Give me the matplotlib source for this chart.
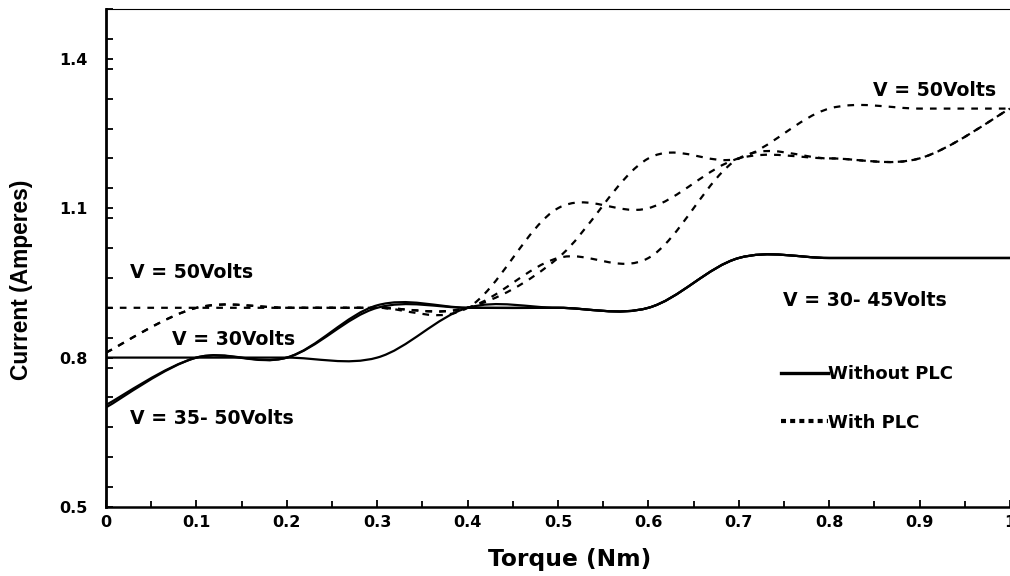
import matplotlib
matplotlib.use("Agg")
import matplotlib.pyplot as plt
from matplotlib.path import Path
from matplotlib.patches import PathPatch
from matplotlib.lines import Line2D
from matplotlib.ticker import MultipleLocator, FixedLocator

# ---------------- data ----------------
torque = [0.0, 0.1, 0.2, 0.3, 0.4, 0.5, 0.6, 0.7, 0.8, 0.9, 1.0]

# Without PLC (solid)
without_30v = [0.80, 0.80, 0.80, 0.80, 0.90, 0.90, 0.90, 1.00, 1.00, 1.00, 1.00]
without_35_50v_a = [0.70, 0.80, 0.80, 0.90, 0.90, 0.90, 0.90, 1.00, 1.00, 1.00, 1.00]
without_35_50v_b = [0.705, 0.80, 0.80, 0.905, 0.90, 0.90, 0.90, 1.00, 1.00, 1.00, 1.00]

# With PLC (dashed)
with_a = [0.90, 0.90, 0.90, 0.90, 0.90, 1.10, 1.10, 1.20, 1.20, 1.20, 1.30]
with_b = [0.81, 0.90, 0.90, 0.90, 0.90, 1.00, 1.00, 1.20, 1.20, 1.20, 1.30]
with_c = [0.81, 0.90, 0.90, 0.90, 0.90, 1.00, 1.20, 1.20, 1.30, 1.30, 1.30]

y_tick_values = [0.5, 0.8, 1.1, 1.4]
y_tick_labels = ["0.5", "0.8", "1.1", "1.4"]
x_tick_values = [0.0, 0.1, 0.2, 0.3, 0.4, 0.5, 0.6, 0.7, 0.8, 0.9, 1.0]
x_tick_labels = ["0", "0.1", "0.2", "0.3", "0.4", "0.5", "0.6", "0.7", "0.8", "0.9", "1"]

annotations = [
    (0.027, 0.97, "V = 50Volts"),
    (0.073, 0.836, "V = 30Volts"),
    (0.027, 0.678, "V = 35- 50Volts"),
    (0.749, 0.914, "V = 30- 45Volts"),
    (0.848, 1.336, "V = 50Volts"),
]


def smooth_path(xs, ys):
    """Excel-style smoothed line (Catmull-Rom drawn as cubic Bezier)."""
    pts = list(zip(xs, ys))
    n = len(pts)
    verts = [pts[0]]
    codes = [Path.MOVETO]
    for i in range(n - 1):
        p0 = pts[i - 1] if i > 0 else pts[i]
        p1 = pts[i]
        p2 = pts[i + 1]
        p3 = pts[i + 2] if i + 2 < n else pts[i + 1]
        c1 = (p1[0] + (p2[0] - p0[0]) / 6.0, p1[1] + (p2[1] - p0[1]) / 6.0)
        c2 = (p2[0] - (p3[0] - p1[0]) / 6.0, p2[1] - (p3[1] - p1[1]) / 6.0)
        verts += [c1, c2, p2]
        codes += [Path.CURVE4] * 3
    return Path(verts, codes)


fig = plt.figure(figsize=(10.10, 5.76), dpi=100)
ax = fig.add_axes([0.105, 0.1198, 0.895, 0.8646])

FONT = "DejaVu Sans"

solid_style = dict(facecolor="none", edgecolor="black", lw=1.6, capstyle="round")
dash_style = dict(facecolor="none", edgecolor="black", lw=1.6, capstyle="butt",
                  linestyle=(0, (3.0, 3.2)))

for ys in (without_30v, without_35_50v_a, without_35_50v_b):
    ax.add_patch(PathPatch(smooth_path(torque, ys), **solid_style))
for ys in (with_a, with_b, with_c):
    ax.add_patch(PathPatch(smooth_path(torque, ys), **dash_style))

ax.set_xlim(0, 1)
ax.set_ylim(0.5, 1.5)

ax.xaxis.set_major_locator(FixedLocator(x_tick_values))
ax.set_xticklabels(x_tick_labels)
ax.xaxis.set_minor_locator(MultipleLocator(0.05))
ax.yaxis.set_major_locator(FixedLocator(y_tick_values))
ax.set_yticklabels(y_tick_labels)
ax.yaxis.set_minor_locator(MultipleLocator(0.06))

ax.tick_params(axis="both", which="both", direction="in", width=1.3, color="black")
ax.tick_params(axis="x", which="major", length=5, pad=6)
ax.tick_params(axis="x", which="minor", length=4)
ax.tick_params(axis="y", which="both", length=5, pad=13)
for lab in ax.get_xticklabels() + ax.get_yticklabels():
    lab.set_fontfamily(FONT)
    lab.set_fontweight("bold")
    lab.set_fontsize(11.5)

ax.spines["left"].set_linewidth(2.0)
ax.spines["bottom"].set_linewidth(1.8)
ax.spines["top"].set_linewidth(0.8)
ax.spines["right"].set_visible(False)

ax.set_xlabel("Torque (Nm)", fontfamily=FONT, fontweight="bold", fontsize=16.8)
ax.xaxis.set_label_coords(0.513, -0.083)
ax.set_ylabel("Current (Amperes)", fontfamily="Liberation Sans", fontweight="bold",
              fontsize=16.4)
ax.yaxis.set_label_coords(-0.081, 0.456)

for x, y, t in annotations:
    ax.text(x, y, t, fontfamily=FONT, fontweight="bold", fontsize=13.6,
            ha="left", va="center")

handles = [
    Line2D([], [], color="black", lw=2.4, linestyle="-"),
    Line2D([], [], color="black", lw=3.0, linestyle=(0, (1.2, 1.0))),
]
leg = ax.legend(handles, ["Without PLC", "With PLC"], loc="upper left",
                bbox_to_anchor=(0.747, 0.285), frameon=False, handlelength=2.6,
                handletextpad=0.0, labelspacing=1.7, borderpad=0, borderaxespad=0,
                prop=dict(family=FONT, weight="bold", size=13))

fig.savefig("out.png", dpi=100)
